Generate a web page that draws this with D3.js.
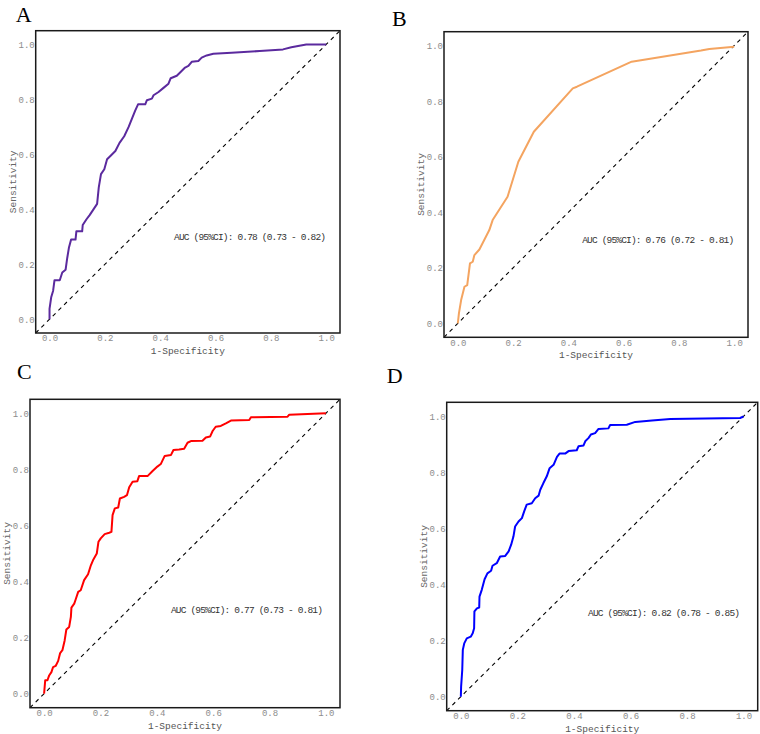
<!DOCTYPE html>
<html>
<head>
<meta charset="utf-8">
<script src="https://cdn.jsdelivr.net/npm/d3@7"></script>
<style>
    body { margin: 0; background: #fff; }
    #chart-area { width: 760px; height: 734px; }
</style>
</head>
<body>
<div id="chart-area"></div>
<script>

// ROC points (1-specificity, sensitivity)
let fprA = [0, 0, 0.006, 0.013, 0.018, 0.037, 0.046, 0.058, 0.064, 0.07, 0.078, 0.094, 0.097, 0.118, 0.12, 0.133, 0.145, 0.157, 0.172, 0.178, 0.186, 0.198, 0.208, 0.22, 0.238, 0.253, 0.27, 0.286, 0.298, 0.31, 0.32, 0.346, 0.352, 0.37, 0.376, 0.394, 0.412, 0.43, 0.438, 0.46, 0.472, 0.49, 0.502, 0.514, 0.538, 0.55, 0.568, 0.592, 0.658, 0.76, 0.844, 0.874, 0.928, 1];
let tprA = [0, 0.038, 0.08, 0.104, 0.142, 0.142, 0.17, 0.18, 0.223, 0.26, 0.29, 0.29, 0.32, 0.32, 0.343, 0.363, 0.379, 0.397, 0.42, 0.48, 0.528, 0.546, 0.582, 0.594, 0.612, 0.642, 0.666, 0.70, 0.73, 0.76, 0.782, 0.782, 0.797, 0.803, 0.815, 0.827, 0.842, 0.857, 0.877, 0.886, 0.898, 0.916, 0.922, 0.937, 0.94, 0.952, 0.96, 0.966, 0.97, 0.976, 0.982, 0.99, 1, 1];

let fprB = [0, 0.004, 0.012, 0.024, 0.034, 0.044, 0.054, 0.06, 0.078, 0.114, 0.126, 0.18, 0.219, 0.275, 0.416, 0.431, 0.629, 0.88, 0.91, 1];
let tprB = [0, 0.036, 0.084, 0.132, 0.138, 0.216, 0.222, 0.246, 0.266, 0.336, 0.372, 0.456, 0.582, 0.69, 0.846, 0.852, 0.942, 0.982, 0.988, 0.996];

let fprC = [0, 0.004, 0.012, 0.018, 0.026, 0.032, 0.041, 0.05, 0.057, 0.065, 0.073, 0.079, 0.089, 0.095, 0.097, 0.107, 0.112, 0.121, 0.13, 0.142, 0.156, 0.166, 0.175, 0.187, 0.193, 0.201, 0.215, 0.231, 0.239, 0.243, 0.251, 0.263, 0.269, 0.284, 0.294, 0.302, 0.314, 0.331, 0.337, 0.367, 0.385, 0.402, 0.414, 0.428, 0.45, 0.459, 0.479, 0.497, 0.509, 0.521, 0.562, 0.574, 0.589, 0.598, 0.609, 0.627, 0.645, 0.663, 0.728, 0.734, 0.864, 0.87, 1];
let tprC = [0, 0.048, 0.048, 0.065, 0.077, 0.095, 0.099, 0.117, 0.145, 0.155, 0.19, 0.229, 0.238, 0.274, 0.307, 0.321, 0.336, 0.363, 0.369, 0.405, 0.426, 0.458, 0.479, 0.5, 0.542, 0.554, 0.569, 0.574, 0.577, 0.637, 0.661, 0.664, 0.696, 0.702, 0.708, 0.736, 0.756, 0.758, 0.776, 0.776, 0.794, 0.81, 0.819, 0.848, 0.851, 0.869, 0.871, 0.874, 0.895, 0.901, 0.902, 0.914, 0.917, 0.937, 0.952, 0.955, 0.964, 0.974, 0.976, 0.986, 0.988, 0.995, 1];

let fprD = [0, 0.001, 0.005, 0.007, 0.012, 0.021, 0.035, 0.042, 0.047, 0.048, 0.057, 0.065, 0.066, 0.074, 0.084, 0.094, 0.107, 0.112, 0.127, 0.139, 0.157, 0.169, 0.178, 0.186, 0.192, 0.204, 0.216, 0.224, 0.233, 0.251, 0.263, 0.275, 0.281, 0.292, 0.304, 0.314, 0.328, 0.34, 0.349, 0.369, 0.381, 0.41, 0.416, 0.434, 0.44, 0.452, 0.46, 0.475, 0.487, 0.522, 0.528, 0.587, 0.617, 0.676, 0.741, 0.988, 1];
let tprD = [0, 0.036, 0.095, 0.167, 0.19, 0.208, 0.214, 0.226, 0.244, 0.304, 0.315, 0.318, 0.357, 0.381, 0.419, 0.44, 0.449, 0.467, 0.476, 0.5, 0.502, 0.518, 0.542, 0.571, 0.607, 0.625, 0.637, 0.661, 0.685, 0.69, 0.708, 0.717, 0.738, 0.762, 0.786, 0.815, 0.827, 0.855, 0.867, 0.867, 0.876, 0.879, 0.893, 0.896, 0.911, 0.923, 0.935, 0.94, 0.955, 0.957, 0.969, 0.97, 0.98, 0.985, 0.99, 0.994, 1];

let panelLetters = ["A", "B", "C", "D"];
let aucLabels = [
    "AUC (95%CI): 0.78 (0.73 - 0.82)",
    "AUC (95%CI): 0.76 (0.72 - 0.81)",
    "AUC (95%CI): 0.77 (0.73 - 0.81)",
    "AUC (95%CI): 0.82 (0.78 - 0.85)"
];
let tickValues = [0, 0.2, 0.4, 0.6, 0.8, 1.0];


class RocVis {

    constructor(svg, box, fpr, tpr, color, letter, aucLabel) {
        this.svg = svg;
        this.box = box;
        this.data = fpr.map((d, i) => ({fpr: d, tpr: tpr[i]}));
        this.color = color;
        this.letter = letter;
        this.aucLabel = aucLabel;

        this.initVis();
    }

    initVis() {
        let vis = this;
        let b = vis.box;

        vis.g = vis.svg.append("g")
            .attr("transform", "translate(" + b.x + "," + b.y + ")");

        // ggplot style padding around 0..1
        vis.x = d3.scaleLinear().domain([-0.05, 1.05]).range([0, b.w]);
        vis.y = d3.scaleLinear().domain([-0.05, 1.05]).range([b.h, 0]);

        // axes, tick lines hidden
        vis.xAxis = d3.axisBottom(vis.x).tickValues(tickValues).tickFormat(d3.format(".1f")).tickSize(0).tickPadding(2);
        vis.yAxis = d3.axisLeft(vis.y).tickValues(tickValues).tickFormat(d3.format(".1f")).tickSize(0).tickPadding(1);

        vis.g.append("g")
            .attr("class", "axis")
            .attr("transform", "translate(0," + b.h + ")")
            .call(vis.xAxis);

        vis.g.append("g")
            .attr("class", "axis")
            .call(vis.yAxis);

        vis.g.selectAll(".axis .domain").remove();
        vis.g.selectAll(".axis text")
            .attr("font-family", "Liberation Mono, DejaVu Sans Mono, monospace")
            .attr("font-size", 9)
            .attr("fill", "#8c8c8c");

        // axis titles
        vis.g.append("text")
            .attr("x", b.w / 2)
            .attr("y", b.h + 21)
            .attr("text-anchor", "middle")
            .attr("font-family", "Liberation Mono, DejaVu Sans Mono, monospace")
            .attr("font-size", 9.5)
            .attr("fill", "#555")
            .text("1-Specificity");

        vis.g.append("text")
            .attr("transform", "translate(-20," + (b.h / 2) + ") rotate(-90)")
            .attr("text-anchor", "middle")
            .attr("font-family", "Liberation Mono, DejaVu Sans Mono, monospace")
            .attr("font-size", 9.5)
            .attr("fill", "#666")
            .text("Sensitivity");

        // panel letter
        vis.svg.append("text")
            .attr("x", b.x + b.lx)
            .attr("y", b.y + b.ly)
            .attr("font-family", "Liberation Serif, Times New Roman, serif")
            .attr("font-size", 22)
            .attr("fill", "#000")
            .text(vis.letter);

        vis.updateVis();
    }

    updateVis() {
        let vis = this;
        let b = vis.box;

        // reference diagonal
        vis.g.append("line")
            .attr("x1", vis.x(-0.05))
            .attr("y1", vis.y(-0.05))
            .attr("x2", vis.x(1.05))
            .attr("y2", vis.y(1.05))
            .attr("stroke", "#000")
            .attr("stroke-width", 1.1)
            .attr("stroke-dasharray", "4,4");

        let line = d3.line()
            .x(d => vis.x(d.fpr))
            .y(d => vis.y(d.tpr));

        vis.g.append("path")
            .datum(vis.data)
            .attr("d", line)
            .attr("fill", "none")
            .attr("stroke", vis.color)
            .attr("stroke-width", 2)
            .attr("stroke-linejoin", "round");

        vis.g.append("text")
            .attr("x", vis.x(0.45))
            .attr("y", vis.y(0.30))
            .attr("dy", "0.35em")
            .attr("font-family", "Liberation Mono, DejaVu Sans Mono, monospace")
            .attr("font-size", 9.5)
            .attr("textLength", 152)
            .attr("lengthAdjust", "spacing")
            .attr("fill", "#333")
            .text(vis.aucLabel);

        // panel frame
        vis.g.append("rect")
            .attr("width", b.w)
            .attr("height", b.h)
            .attr("fill", "none")
            .attr("stroke", "#1a1a1a")
            .attr("stroke-width", 1.5);
    }
}

let svg = d3.select("#chart-area").append("svg")
    .attr("width", 760)
    .attr("height", 734);

let boxes = [
    {x: 35.7, y: 30.7, w: 304.3, h: 302.3, lx: -20, ly: -9},
    {x: 444, y: 31.7, w: 304, h: 305.6, lx: -52, ly: -6},
    {x: 30, y: 399.3, w: 310, h: 308.4, lx: -13, ly: -20},
    {x: 446.7, y: 402.3, w: 311, h: 308.4, lx: -60, ly: -19}
];
let colors = ["#5B2A9E", "#F4A460", "#FF0000", "#0000FF"];
let fprs = [fprA, fprB, fprC, fprD];
let tprs = [tprA, tprB, tprC, tprD];

let panels = boxes.map((b, i) =>
    new RocVis(svg, b, fprs[i], tprs[i], colors[i], panelLetters[i], aucLabels[i]));

</script>
</body>
</html>
